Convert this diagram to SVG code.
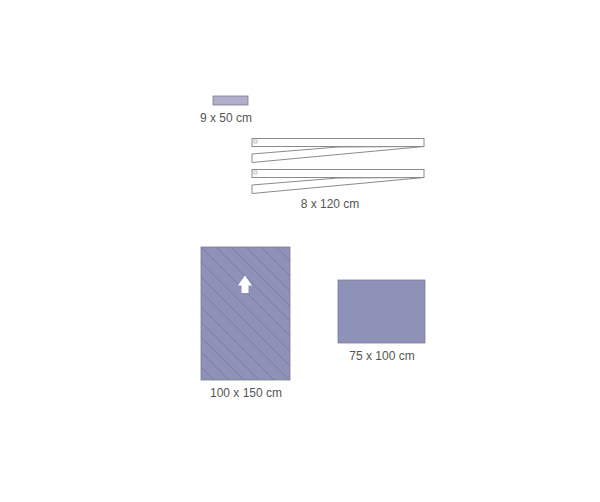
<svg xmlns="http://www.w3.org/2000/svg" width="600" height="502" viewBox="0 0 600 502">
<defs>
<style>
.lbl{font-family:"Liberation Sans",Arial,sans-serif;font-size:12px;fill:#555555;text-anchor:middle}
.strip{fill:#ffffff;stroke:#8a8a8a;stroke-width:1}
</style>
<pattern id="hatch" patternUnits="userSpaceOnUse" width="15" height="15" patternTransform="translate(201,247)">
<rect width="15" height="15" fill="#8e91b8"/>
<path d="M-1,-1 L16,16 M-16,-1 L1,16 M14,-1 L31,16" stroke="#70739c" stroke-width="0.7"/>
</pattern>
</defs>
<rect width="600" height="502" fill="#ffffff"/>
<g id="node-9x50">
<rect x="213" y="96" width="35" height="9" fill="#b0aecb" stroke="#7d7d8c" stroke-width="0.8"/>
<text class="lbl" x="226" y="122">9 x 50 cm</text>
</g>
<g id="node-8x120">
<rect class="strip" x="252" y="138.5" width="172" height="8"/>
<rect x="254" y="140" width="3" height="3" fill="none" stroke="#9a9a9a" stroke-width="0.6"/>
<path class="strip" d="M252,154 L338,147 L424,146.5 L252,162.5 Z"/>
<rect class="strip" x="252" y="169.5" width="172" height="8"/>
<rect x="254" y="171" width="3" height="3" fill="none" stroke="#9a9a9a" stroke-width="0.6"/>
<path class="strip" d="M252,185 L338,178 L424,177.5 L252,193.5 Z"/>
<text class="lbl" x="330" y="208">8 x 120 cm</text>
</g>
<g id="node-100x150">
<rect x="201" y="247" width="89" height="133" fill="url(#hatch)" stroke="#7d7d8c" stroke-width="0.8"/>
<path d="M245,275.5 L252,285.5 L248.5,285.5 L248.5,293 L241.5,293 L241.5,285.5 L238,285.5 Z" fill="#ffffff"/>
<text class="lbl" x="246" y="397">100 x 150 cm</text>
</g>
<g id="node-75x100">
<rect x="338" y="280" width="87" height="63" fill="#8e91b8" stroke="#7d7d8c" stroke-width="0.8"/>
<text class="lbl" x="382" y="360">75 x 100 cm</text>
</g>
<g id="connectors"/>
</svg>
